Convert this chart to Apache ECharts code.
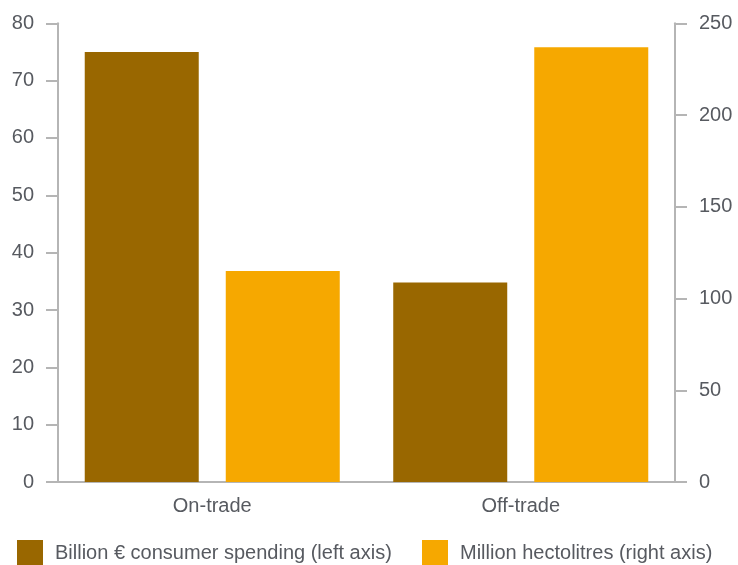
<!DOCTYPE html>
<html><head><meta charset="utf-8">
<script src="https://cdn.jsdelivr.net/npm/echarts@6/dist/echarts.min.js"></script>
<style>html,body{margin:0;padding:0;background:#fff}#c{width:738px;height:565px}</style>
</head><body><div id="c"></div>
<script>
const categories = ['On-trade', 'Off-trade'];
const spending = [75, 34.8];    // Billion € consumer spending (left axis)
const volume = [115, 237];      // Million hectolitres (right axis)
const leftTicks = {min: 0, max: 80, interval: 10};
const rightTicks = {min: 0, max: 250, interval: 50};
const seriesNames = ['Billion € consumer spending (left axis)', 'Million hectolitres (right axis)'];

const FONT = 'Liberation Sans';
const TXT = '#575a60';
const AX = '#b5b5b5';
const chart = echarts.init(document.getElementById('c'), null, {renderer: 'canvas'});
const yAxisBase = (pos, t) => ({
  type: 'value', position: pos, min: t.min, max: t.max, interval: t.interval,
  axisLine: {show: true, lineStyle: {color: AX, width: 2}},
  axisTick: {show: true, length: 12, lineStyle: {color: AX, width: 2}},
  splitLine: {show: false},
  axisLabel: {color: TXT, fontFamily: FONT, fontSize: 20, margin: 24}
});
chart.setOption({
  animation: false,
  grid: {left: 58, right: 63, top: 23.3, bottom: 83},
  legend: [
    {left: 17, top: 540, padding: 0, itemWidth: 26, itemHeight: 26, icon: 'rect',
     data: [seriesNames[0]], textStyle: {color: TXT, fontFamily: FONT, fontSize: 20, padding: [0, 0, 0, 7]}},
    {left: 422, top: 540, padding: 0, itemWidth: 26, itemHeight: 26, icon: 'rect',
     data: [seriesNames[1]], textStyle: {color: TXT, fontFamily: FONT, fontSize: 20, padding: [0, 0, 0, 7]}}
  ],
  xAxis: {
    type: 'category', data: categories,
    axisLine: {show: true, lineStyle: {color: AX, width: 2}},
    axisTick: {show: false},
    axisLabel: {color: TXT, fontFamily: FONT, fontSize: 20, margin: 14}
  },
  yAxis: [yAxisBase('left', leftTicks), yAxisBase('right', rightTicks)],
  series: [
    {name: seriesNames[0], type: 'bar', yAxisIndex: 0, data: spending, barWidth: 114, barGap: '23.7%',
     itemStyle: {color: '#996700'}},
    {name: seriesNames[1], type: 'bar', yAxisIndex: 1, data: volume, barWidth: 114,
     itemStyle: {color: '#f6a800'}}
  ]
});
</script></body></html>
